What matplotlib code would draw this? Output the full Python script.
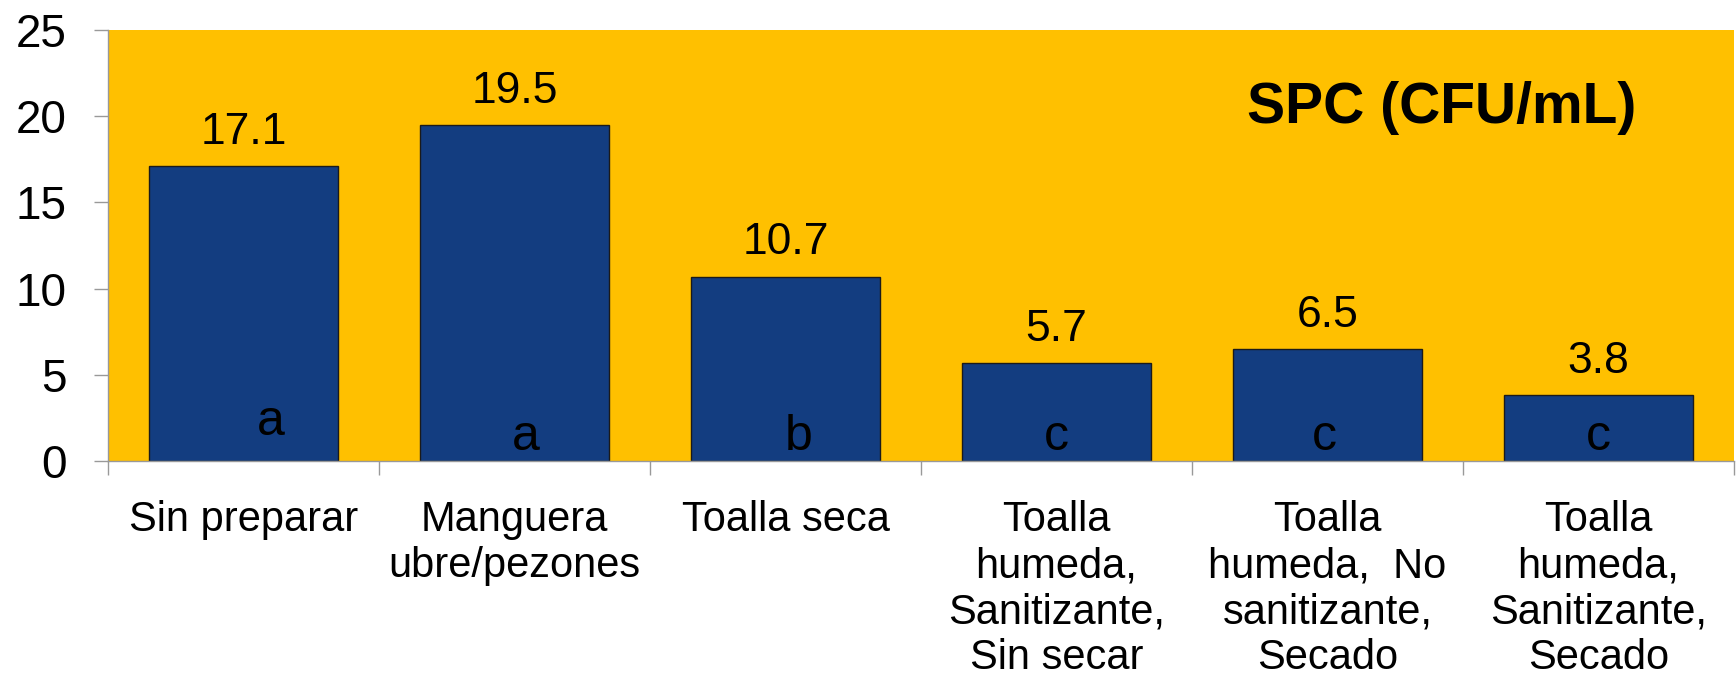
import matplotlib
matplotlib.use("Agg")
import matplotlib.pyplot as plt
import numpy as np

plt.rcParams['font.family'] = ['Liberation Sans', 'DejaVu Sans']

# Treatments, mean SPC values and significance groups
categories = [
    "Sin preparar",
    "Manguera\nubre/pezones",
    "Toalla seca",
    "Toalla\nhumeda,\nSanitizante,\nSin secar",
    "Toalla\nhumeda,  No\nsanitizante,\nSecado",
    "Toalla\nhumeda,\nSanitizante,\nSecado",
]
spc_values = [17.1, 19.5, 10.7, 5.7, 6.5, 3.8]
value_labels = ["17.1", "19.5", "10.7", "5.7", "6.5", "3.8"]
groups = ["a", "a", "b", "c", "c", "c"]
y_ticks = [0, 5, 10, 15, 20, 25]
title_text = "SPC (CFU/mL)"

# Placement of the group letters inside each bar (x shift, baseline height)
letter_dx = [0.10, 0.04, 0.05, 0.0, -0.01, 0.0]
letter_y = [1.5, 0.65, 0.65, 0.65, 0.65, 0.65]

fig = plt.figure(figsize=(17.36, 6.78), dpi=100)
ax = fig.add_axes([108 / 1736, 1 - 461 / 678, 1626 / 1736, 431 / 678])
ax.set_facecolor("#FFC000")

x = np.arange(len(categories))
ax.bar(x, spc_values, width=0.70, color="#133D80", edgecolor="#1A1A1A", linewidth=1.0, zorder=2)

for xi, v, lab in zip(x, spc_values, value_labels):
    ax.annotate(lab, (xi, v), xytext=(0, 16), textcoords="offset points",
                ha="center", va="baseline", fontsize=32, color="black")

for xi, g, dx, ly in zip(x, groups, letter_dx, letter_y):
    ax.text(xi + dx, ly, g, ha="center", va="baseline", fontsize=36, color="black", zorder=3)

ax.text(0.94, 0.82, title_text, transform=ax.transAxes, ha="right", va="center",
        fontsize=41, fontweight="bold", color="black")

ax.set_xlim(-0.5, len(categories) - 0.5)
ax.set_ylim(0, 25)
ax.set_yticks(y_ticks)
ax.set_yticklabels([str(t) for t in y_ticks], fontsize=33)
ax.tick_params(axis="y", length=10, width=1, color="#999999", pad=20, direction="out")

ax.set_xticks(x)
ax.set_xticklabels(categories, fontsize=30, linespacing=1.2)
ax.tick_params(axis="x", which="major", length=0, pad=28)
ax.set_xticks(np.arange(len(categories) + 1) - 0.5, minor=True)
ax.tick_params(axis="x", which="minor", length=10, width=1, color="#999999", direction="out")

for side in ["top", "right"]:
    ax.spines[side].set_visible(False)
for side in ["left", "bottom"]:
    ax.spines[side].set_color("#999999")
    ax.spines[side].set_linewidth(1)

fig.savefig("out.png", dpi=100, facecolor="white")
